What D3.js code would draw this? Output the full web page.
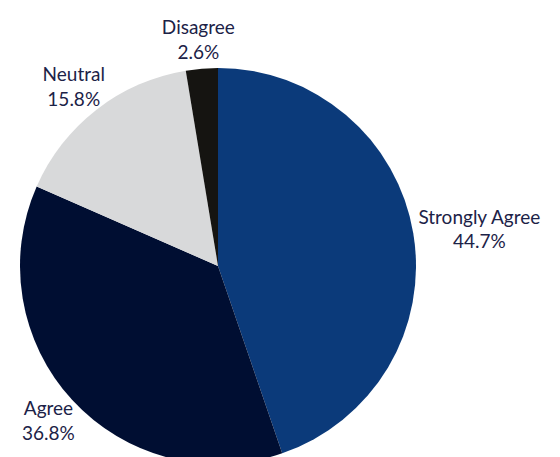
<!DOCTYPE html>
<html>
<head>
<meta charset="utf-8">
<script src="https://cdn.jsdelivr.net/npm/d3@7"></script>
<style>
  body { margin: 0; background: #fff; }
  text { font-family: Lato, "Noto Sans", sans-serif; font-size: 19px; fill: #1c2247; }
</style>
</head>
<body>
<svg width="560" height="457"></svg>
<script>
var labels = ["Strongly Agree", "Agree", "Neutral", "Disagree"];
var values = [44.7, 36.8, 15.8, 2.6];
var colors = ["#0b3a7a", "#000e32", "#d8d9da", "#151411"];

var svg = d3.select("svg"),
    radius = 198,
    g = svg.append("g").attr("transform", "translate(218,266)");

var pie = d3.pie().sort(null).value(function (d) { return d; });
var arc = d3.arc().innerRadius(0).outerRadius(radius);
var arcs = pie(values);

g.selectAll("path").data(arcs).enter().append("path")
    .attr("d", arc)
    .attr("fill", function (d, i) { return colors[i]; });

// labels sit just outside the rim, pushed out by their own box size
var pad = 6;
var lab = g.selectAll("g.lab").data(arcs).enter().append("g").attr("class", "lab");

lab.append("text")
    .attr("text-anchor", "middle")
    .each(function (d, i) {
      var t = d3.select(this);
      t.append("tspan").attr("x", 0).attr("dy", "0em").text(labels[i]);
      t.append("tspan").attr("x", 0).attr("dy", "1.3em").text(values[i].toFixed(1) + "%");
    });

lab.each(function (d) {
  var node = d3.select(this);
  var bb = this.getBBox();
  var a = (d.startAngle + d.endAngle) / 2;
  var sx = Math.sin(a), cy = -Math.cos(a);
  var px = (radius + pad) * sx, py = (radius + pad) * cy;
  var cx = px + bb.width / 2 * sx, ccy = py + bb.height / 2 * cy;
  node.attr("transform", "translate(" + (cx - (bb.x + bb.width / 2)) + "," + (ccy - (bb.y + bb.height / 2)) + ")");
});
</script>
</body>
</html>
